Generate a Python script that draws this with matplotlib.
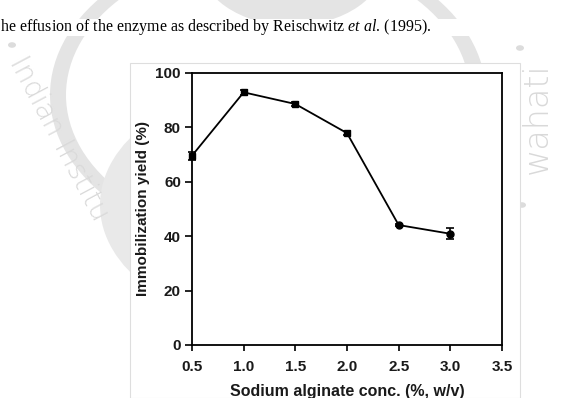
import matplotlib
matplotlib.use('Agg')
import matplotlib.pyplot as plt
from matplotlib.patches import Circle, Rectangle, Wedge

plt.rcParams['mathtext.fontset'] = 'custom'
plt.rcParams['mathtext.rm'] = 'Liberation Serif'
plt.rcParams['mathtext.it'] = 'Liberation Serif:italic'

# data
conc = [0.5, 1.0, 1.5, 2.0, 2.5, 3.0]
yield_pct = [69.6, 92.9, 88.6, 77.9, 44.1, 40.9]
yield_err = [1.5, 1.0, 0.7, 0.8, 0.4, 2.0]
xticks = [0.5, 1.0, 1.5, 2.0, 2.5, 3.0, 3.5]
yticks = [0, 20, 40, 60, 80, 100]

W, H = 570, 398
fig = plt.figure(figsize=(W / 100, H / 100), dpi=100)
fig.patch.set_facecolor('white')

def fx(px):
    return px / W

def fy(py):
    return 1 - py / H

# faint institute watermark behind the page (rough)
wm = '#e4e4e4'
fig.patches.append(Wedge((fx(268), fy(95)), 218 / W, 0, 360, width=16 / W,
                         transform=fig.transFigure, facecolor=wm, edgecolor='none',
                         zorder=0))
fig.patches.append(Circle((fx(268), fy(205)), 168 / W, transform=fig.transFigure,
                          facecolor='#e9e9e9', edgecolor='none', zorder=0))
fig.patches.append(Circle((fx(292), fy(-40)), 94 / W, transform=fig.transFigure,
                          facecolor=wm, edgecolor='none', zorder=0))
# keep the text line on a clear band
fig.patches.append(Rectangle((0, fy(36)), 1, fy(19) - fy(36), transform=fig.transFigure,
                             facecolor='white', edgecolor='none', zorder=0.5))
# bullets of the watermark
for bx, by in [(12, 45), (520, 48), (522, 205)]:
    fig.patches.append(Circle((fx(bx), fy(by)), 4 / W, transform=fig.transFigure,
                              facecolor='#dcdcdc', edgecolor='none', zorder=0.6))
fig.text(fx(16), fy(58), 'Indian Institu', fontsize=20, color='#d9d9d9',
         rotation=-62, rotation_mode='anchor', ha='left', va='center',
         family='DejaVu Sans', fontweight='light', zorder=0.6)
fig.text(fx(537), fy(62), 'wahati', fontsize=24, color='#d9d9d9',
         rotation=90, rotation_mode='anchor', ha='right', va='center',
         family='DejaVu Sans', fontweight='light', zorder=0.6)

fig.text(0, fy(27), r'he effusion of the enzyme as described by Reischwitz $\mathit{et\ al}$. (1995).',
         fontsize=11.5, family='Liberation Serif', ha='left', va='center', zorder=3)

# white panel of the pasted chart
fig.patches.append(Rectangle((fx(130), 0), fx(520) - fx(130), fy(63),
                             transform=fig.transFigure, facecolor='white',
                             edgecolor='#dedede', lw=0.8, zorder=1))

ax = fig.add_axes([fx(192), fy(345), fx(502) - fx(192), fy(73) - fy(345)])
ax.set_zorder(2)
eb = ax.errorbar(conc, yield_pct, yerr=yield_err, fmt='-', color='black', lw=1.3,
                 capsize=3, elinewidth=1.2, capthick=1.2)
for art in eb.lines[1] + eb.lines[2]:
    art.set_clip_on(False)
eb.lines[0].set_clip_on(False)
# squares for the first points, round dots for the last two
ax.plot(conc[:4], yield_pct[:4], 's', color='black', markersize=5, clip_on=False)
ax.plot(conc[4:], yield_pct[4:], 'o', color='black', markersize=5, clip_on=False)

ax.set_xlim(0.5, 3.5)
ax.set_ylim(0, 100)
ax.set_xticks(xticks)
ax.set_xticklabels(['%.1f' % t for t in xticks])
ax.set_yticks(yticks)
for s in ax.spines.values():
    s.set_linewidth(1.3)
ax.tick_params(axis='x', direction='out', length=4, width=1.2, labelsize=11, pad=7)
ax.tick_params(axis='y', direction='out', length=5, width=1.2, labelsize=11, pad=3)
for lab in ax.get_xticklabels() + ax.get_yticklabels():
    lab.set_fontweight('bold')
    lab.set_family('Liberation Sans')
    lab.set_color('#1a1a1a')

ax.set_xlabel('Sodium alginate conc. (%, w/v)', fontsize=11.5, fontweight='bold',
              family='Liberation Sans', labelpad=7, color='#1a1a1a')
ax.set_ylabel('Immobilization yield (%)', fontsize=11, fontweight='bold',
              family='Liberation Sans', labelpad=4, color='#1a1a1a')

fig.savefig('out.png', dpi=100)
